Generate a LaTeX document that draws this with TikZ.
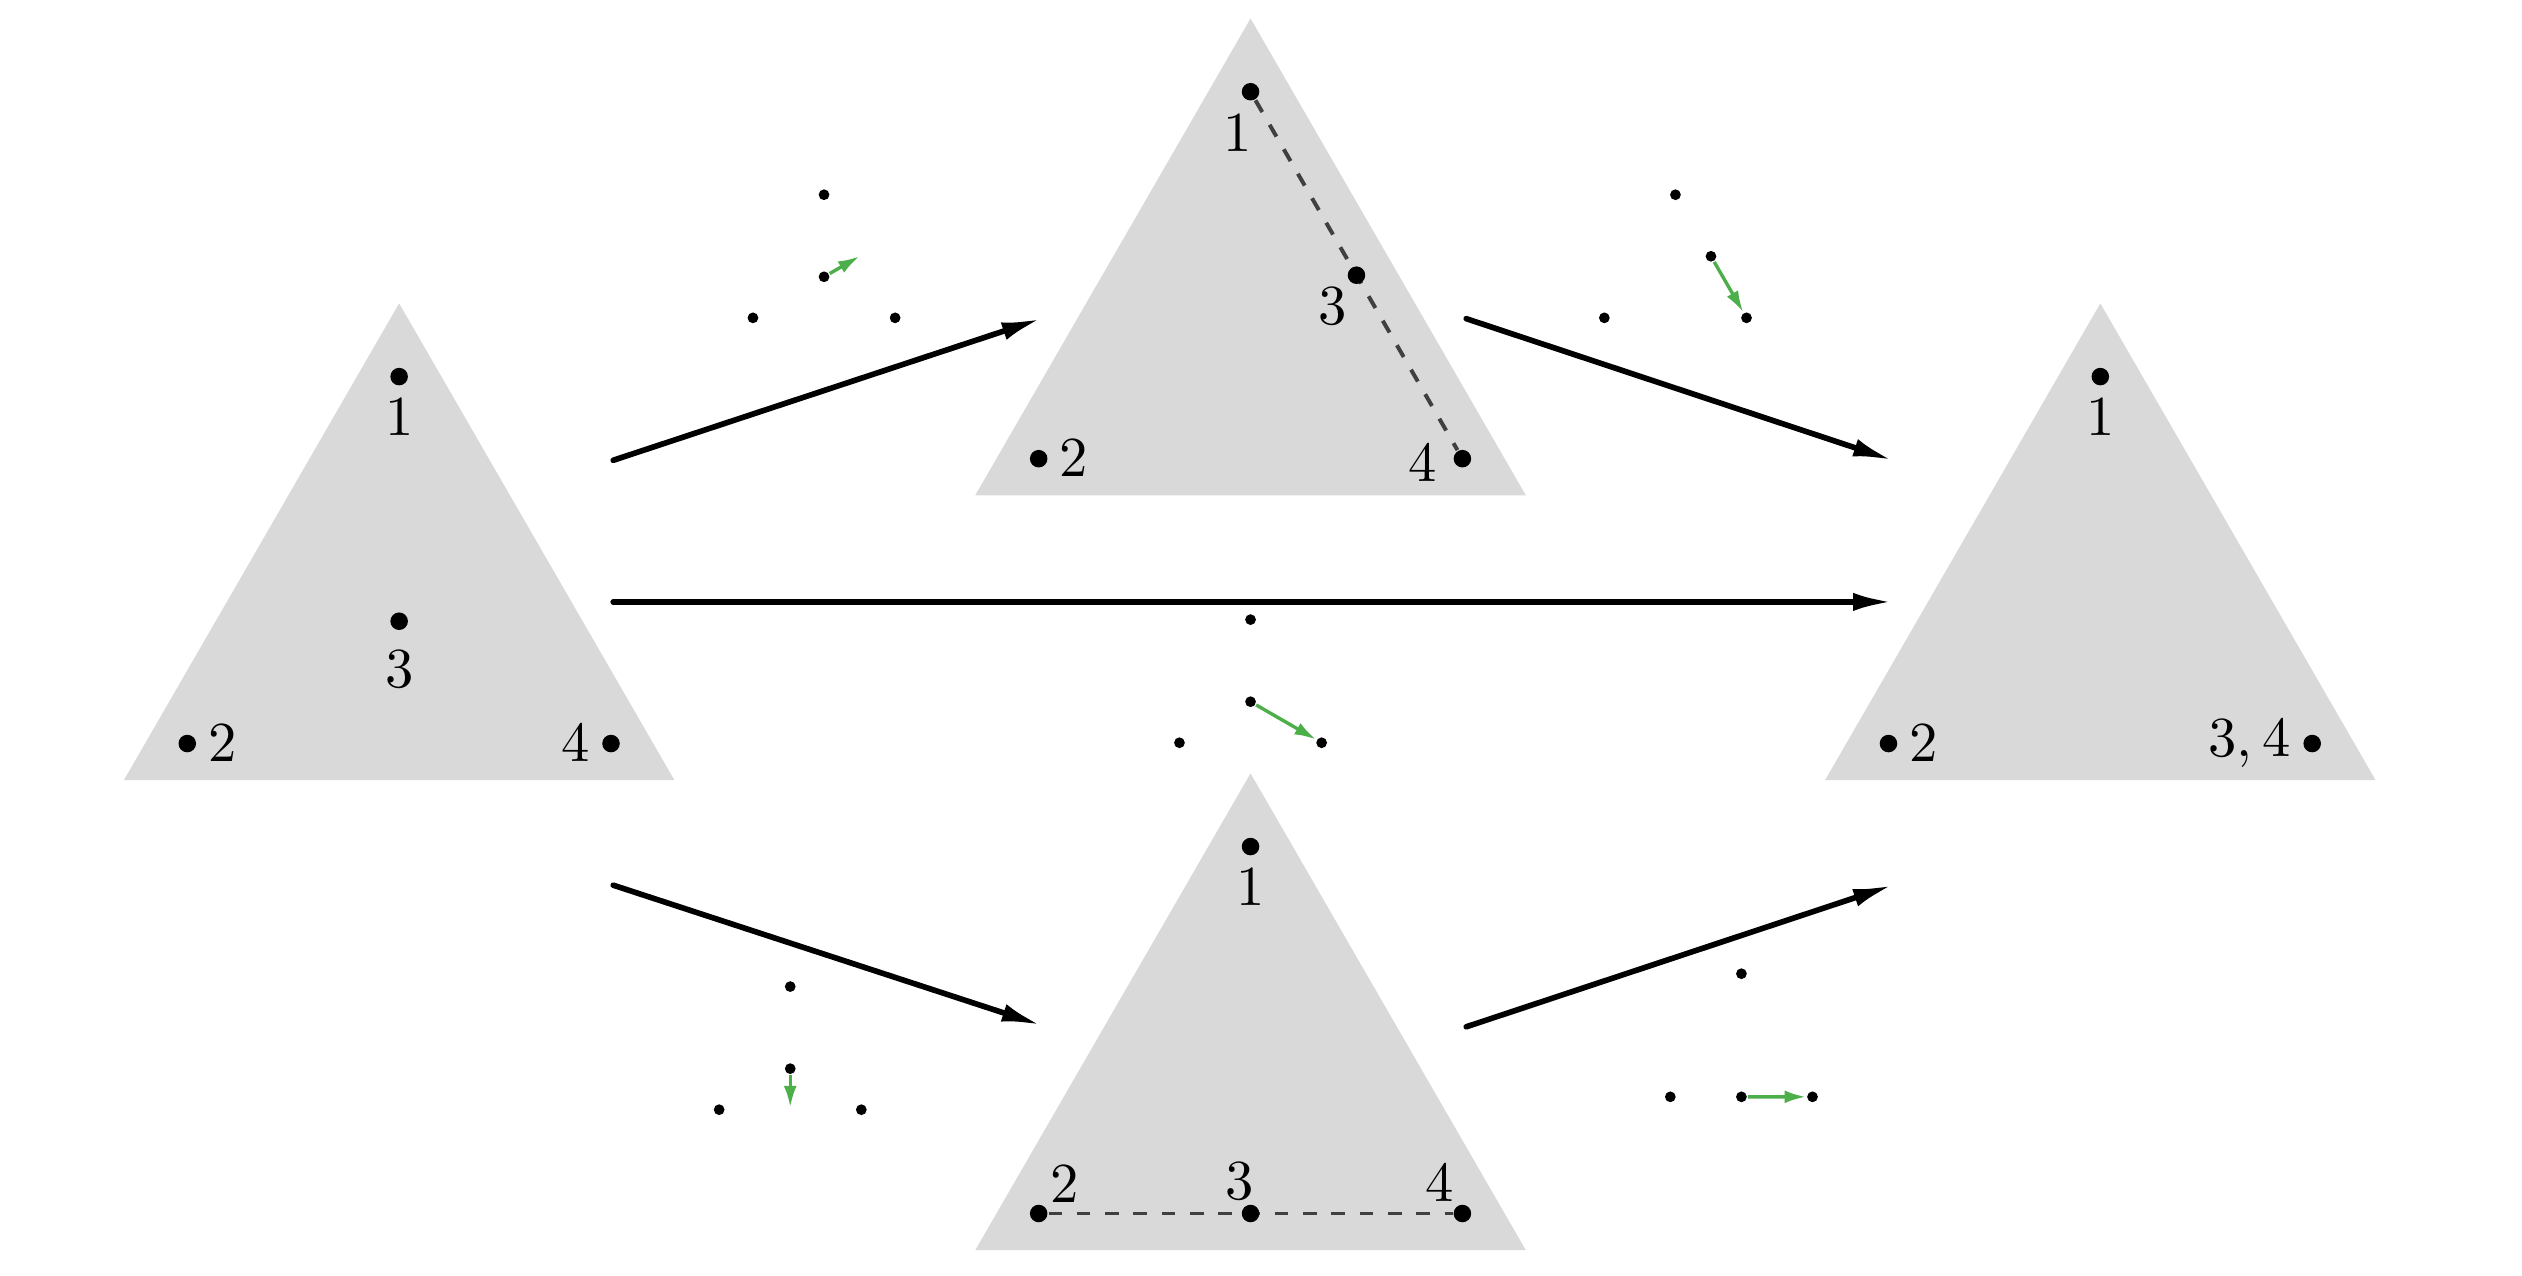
\documentclass[tikz,border=0pt]{standalone}
\usetikzlibrary{arrows.meta}
\definecolor{movegreen}{HTML}{4DAF4A}
\tikzset{
  tri/.style={fill=black!15},
  dot/.style={circle,fill=black,inner sep=0pt,minimum size=3.1pt},
  sdot/.style={circle,fill=black,inner sep=0pt,minimum size=1.9pt},
  lbl/.style={inner sep=0pt},
  link/.style={black!75,line width=0.7pt,dash pattern=on 2.4pt off 2.6pt},
  move/.style={movegreen,line width=0.6pt,-{Latex[length=3.8pt,width=2.3pt]}},
  flow/.style={line width=1pt,line cap=round,-{Latex[length=7pt,width=3.2pt]}}
}
\newcommand{\triangleshape}{\fill[tri] (90:1.975) -- (210:1.975) -- (330:1.975) -- cycle;}
\begin{document}
\begin{tikzpicture}
\useasboundingbox (0,-0.035) rectangle (15.67,7.893);

% start configuration
\begin{scope}[shift={(2.48,4.033)}]
  \triangleshape
  \node[dot] (a1) at (90:1.52) {};
  \node[dot] (a2) at (210:1.52) {};
  \node[dot] (a3) at (0,0) {};
  \node[dot] (a4) at (330:1.52) {};
  \node[lbl] at ([shift={(0,-0.25)}]a1) {$1$};
  \node[lbl] at ([shift={(0.22,0)}]a2) {$2$};
  \node[lbl] at ([shift={(0,-0.30)}]a3) {$3$};
  \node[lbl] at ([shift={(-0.22,0)}]a4) {$4$};
\end{scope}

% upper configuration
\begin{scope}[shift={(7.77,5.803)}]
  \triangleshape
  \node[dot] (b1) at (90:1.52) {};
  \node[dot] (b2) at (210:1.52) {};
  \node[dot] (b4) at (330:1.52) {};
  \draw[link] (b1) -- (b4);
  \node[dot] (b3) at (30:0.76) {};
  \node[lbl] at ([shift={(-0.08,-0.26)}]b1) {$1$};
  \node[lbl] at ([shift={(0.22,0)}]b2) {$2$};
  \node[lbl] at ([shift={(-0.15,-0.19)}]b3) {$3$};
  \node[lbl] at ([shift={(-0.25,-0.03)}]b4) {$4$};
\end{scope}

% lower configuration
\begin{scope}[shift={(7.77,1.113)}]
  \triangleshape
  \node[dot] (c1) at (90:1.52) {};
  \node[dot] (c2) at (210:1.52) {};
  \node[dot] (c4) at (330:1.52) {};
  \draw[link] (c2) -- (c4);
  \node[dot] (c3) at (270:0.76) {};
  \node[lbl] at ([shift={(0,-0.25)}]c1) {$1$};
  \node[lbl] at ([shift={(0.16,0.18)}]c2) {$2$};
  \node[lbl] at ([shift={(-0.07,0.20)}]c3) {$3$};
  \node[lbl] at ([shift={(-0.14,0.19)}]c4) {$4$};
\end{scope}

% final configuration
\begin{scope}[shift={(13.05,4.033)}]
  \triangleshape
  \node[dot] (d1) at (90:1.52) {};
  \node[dot] (d2) at (210:1.52) {};
  \node[dot] (d4) at (330:1.52) {};
  \node[lbl] at ([shift={(0,-0.25)}]d1) {$1$};
  \node[lbl] at ([shift={(0.22,0)}]d2) {$2$};
  \node[lbl] at ([shift={(-0.39,0)}]d4) {$3,4$};
\end{scope}

% small moves
\begin{scope}[shift={(5.12,6.173)}]
  \node[sdot] (s11) at (90:0.51) {};
  \node[sdot] (s12) at (210:0.51) {};
  \node[sdot] (s13) at (0,0) {};
  \node[sdot] (s14) at (330:0.51) {};
  \coordinate (s1m) at (30:0.255);
  \draw[move] (s13) -- (s1m);
\end{scope}
\begin{scope}[shift={(10.41,6.173)}]
  \node[sdot] (s21) at (90:0.51) {};
  \node[sdot] (s22) at (210:0.51) {};
  \node[sdot] (s23) at (30:0.255) {};
  \node[sdot] (s24) at (330:0.51) {};
  \draw[move] (s23) -- (s24);
\end{scope}
\begin{scope}[shift={(7.77,3.533)}]
  \node[sdot] (s31) at (90:0.51) {};
  \node[sdot] (s32) at (210:0.51) {};
  \node[sdot] (s33) at (0,0) {};
  \node[sdot] (s34) at (330:0.51) {};
  \draw[move] (s33) -- (s34);
\end{scope}
\begin{scope}[shift={(4.91,1.253)}]
  \node[sdot] (s41) at (90:0.51) {};
  \node[sdot] (s42) at (210:0.51) {};
  \node[sdot] (s43) at (0,0) {};
  \node[sdot] (s44) at (330:0.51) {};
  \coordinate (s4m) at (270:0.24);
  \draw[move] (s43) -- (s4m);
\end{scope}
\begin{scope}[shift={(10.82,1.333)}]
  \node[sdot] (s51) at (90:0.51) {};
  \node[sdot] (s52) at (210:0.51) {};
  \node[sdot] (s53) at (270:0.255) {};
  \node[sdot] (s54) at (330:0.51) {};
  \draw[move] (s53) -- (s54);
\end{scope}

% arrows between configurations
\coordinate (f1) at (3.81,5.033);
\coordinate (f2) at (3.81,4.153);
\coordinate (f3) at (3.81,2.393);
\coordinate (t1) at (6.47,5.913);
\coordinate (t3) at (6.47,1.523);
\coordinate (u1) at (9.11,5.913);
\coordinate (u3) at (9.11,1.513);
\coordinate (e1) at (11.76,5.033);
\coordinate (e2) at (11.76,4.153);
\coordinate (e3) at (11.76,2.393);
\draw[flow] (f1) -- (t1);
\draw[flow] (f2) -- (e2);
\draw[flow] (f3) -- (t3);
\draw[flow] (u1) -- (e1);
\draw[flow] (u3) -- (e3);
\end{tikzpicture}
\end{document}
